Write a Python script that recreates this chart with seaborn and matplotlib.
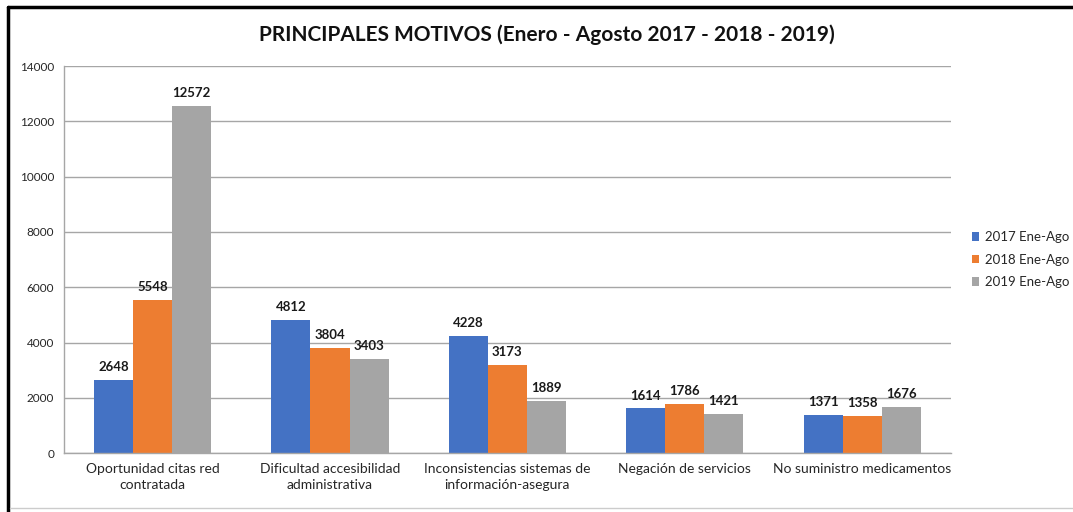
import pandas as pd
import seaborn as sns
import matplotlib.pyplot as plt
from matplotlib.lines import Line2D

categorias = ["Oportunidad citas red\ncontratada",
              "Dificultad accesibilidad\nadministrativa",
              "Inconsistencias sistemas de\ninformación-asegura",
              "Negación de servicios",
              "No suministro medicamentos"]
series = ["2017 Ene-Ago", "2018 Ene-Ago", "2019 Ene-Ago"]
v2017 = [2648, 4812, 4228, 1614, 1371]
v2018 = [5548, 3804, 3173, 1786, 1358]
v2019 = [12572, 3403, 1889, 1421, 1676]
colores = ["#4472C4", "#ED7D31", "#A5A5A5"]

df = pd.DataFrame({
    "motivo": categorias * 3,
    "serie": [s for s in series for _ in categorias],
    "valor": v2017 + v2018 + v2019,
})

sns.set_style("white")
plt.rcParams['font.family'] = ['Lato', 'DejaVu Sans']

fig = plt.figure(figsize=(10.73, 5.12), dpi=100)
ax = fig.add_axes([0.0596, 0.115, 0.8265, 0.756])

sns.barplot(data=df, x="motivo", y="valor", hue="serie", palette=colores,
            width=0.66, saturation=1, linewidth=0, ax=ax, legend=True)

for cont in ax.containers:
    ax.bar_label(cont, fmt="%d", padding=5, fontsize=9.5, fontweight="bold", color="#1a1a1a")

ax.set_ylim(0, 14000)
ax.set_yticks(range(0, 14001, 2000))
ax.yaxis.grid(True, color="#a6a6a6", linewidth=1)
ax.set_axisbelow(True)
ax.set_xlabel("")
ax.set_ylabel("")
ax.tick_params(axis="y", labelsize=8.5, length=0, pad=7)
ax.tick_params(axis="x", labelsize=10, length=0, pad=7)
for lab in ax.get_xticklabels():
    lab.set_linespacing(1.4)
for s in ["top", "right"]:
    ax.spines[s].set_visible(False)
for s in ["left", "bottom"]:
    ax.spines[s].set_color("#a6a6a6")
    ax.spines[s].set_linewidth(1)

ax.legend(loc="center left", bbox_to_anchor=(1.01, 0.5), frameon=False,
          fontsize=9.5, handlelength=0.6, handleheight=0.6, handletextpad=0.4,
          labelspacing=0.8)

fig.text(0.51, 0.932, "PRINCIPALES MOTIVOS (Enero - Agosto 2017 - 2018 - 2019)",
         ha="center", va="center", fontsize=15, fontweight="bold", color="#111111")

# marco del gráfico
fig.add_artist(Line2D([8 / 1073, 8 / 1073], [0, 1 - 7 / 512], color="black", linewidth=2.5))
fig.add_artist(Line2D([8 / 1073, 1], [1 - 7 / 512, 1 - 7 / 512], color="black", linewidth=2.5))
fig.add_artist(Line2D([10 / 1073, 1], [1 - 508 / 512, 1 - 508 / 512], color="#cccccc", linewidth=1))

fig.savefig("out.png", dpi=100)
